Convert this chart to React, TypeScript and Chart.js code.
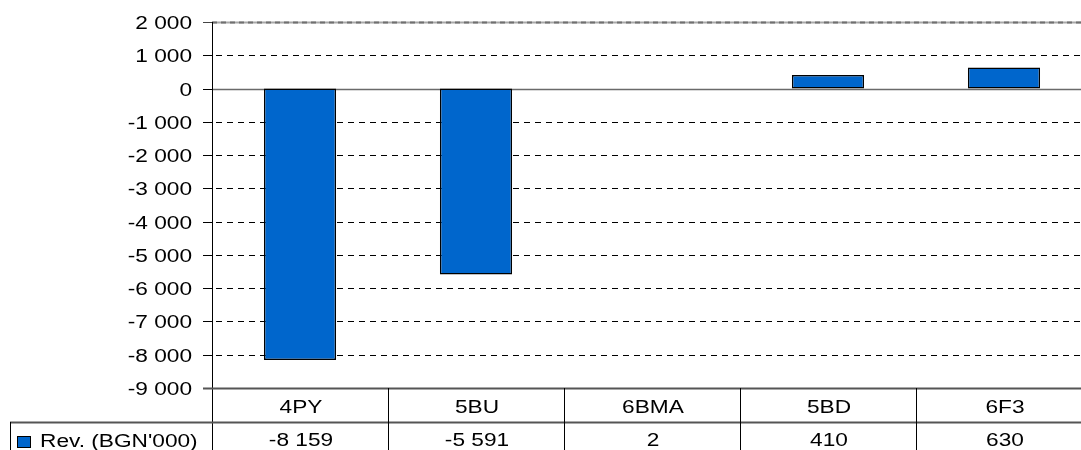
import React, { useEffect, useRef } from 'react';
import { Chart, registerables } from 'chart.js';

Chart.register(...registerables);

const categories = ['4PY', '5BU', '6BMA', '5BD', '6F3'];
const revenue = [-8159, -5591, 2, 410, 630];
const seriesLabel = "Rev. (BGN'000)";
const yMin = -9000;
const yMax = 2000;
const yStep = 1000;

const BAR_COLOR = '#0066CC';
const FONT = '18px "Liberation Sans", Arial, sans-serif';
const SX = 1.26;

function fmt(v: number): string {
  const s = Math.abs(v).toString().replace(/\B(?=(\d{3})+(?!\d))/g, ' ');
  return (v < 0 ? '-' : '') + s;
}

function drawText(ctx: CanvasRenderingContext2D, str: string, x: number, y: number, align: CanvasTextAlign) {
  ctx.save();
  ctx.translate(x, y);
  ctx.scale(SX, 1);
  ctx.font = FONT;
  ctx.fillStyle = '#000';
  ctx.textAlign = align;
  ctx.textBaseline = 'alphabetic';
  ctx.fillText(str, 0, 0);
  ctx.restore();
}

function line(ctx: CanvasRenderingContext2D, x1: number, y1: number, x2: number, y2: number, color: string, width: number, dash: number[] = []) {
  ctx.save();
  ctx.strokeStyle = color;
  ctx.lineWidth = width;
  ctx.setLineDash(dash);
  ctx.beginPath();
  ctx.moveTo(x1, y1);
  ctx.lineTo(x2, y2);
  ctx.stroke();
  ctx.restore();
}

const customPlugin = {
  id: 'customAxesAndTable',
  beforeDatasetsDraw(chart: any) {
    const { ctx, chartArea: a, scales } = chart;
    const y = scales.y;
    y.ticks.forEach((t: any) => {
      const py = Math.round(y.getPixelForValue(t.value)) + 0.5;
      if (t.value === yMin) return;
      if (t.value === yMax) {
        line(ctx, a.left, py, a.right, py, '#a8a8a8', 2);
        line(ctx, a.left, py, a.right, py, '#707070', 2, [5, 4]);
      } else if (t.value === 0) {
        line(ctx, a.left, py, a.right, py, '#6a6a6a', 1.5);
      } else {
        line(ctx, a.left + 4, py, a.right, py, '#000', 1, [6, 5]);
      }
    });
  },
  afterDatasetsDraw(chart: any) {
    const { ctx, chartArea: a, scales } = chart;
    const x = scales.x;
    const y = scales.y;
    const H = chart.height;
    const axisX = Math.round(a.left) + 0.5;
    const rowTop = Math.round(a.bottom);
    const rowMid = rowTop + 34;

    // y axis line
    line(ctx, axisX, a.top, axisX, H, '#000', 1);

    // ticks and labels
    y.ticks.forEach((t: any) => {
      const py = Math.round(y.getPixelForValue(t.value)) + 0.5;
      line(ctx, a.left - 9, py, a.left, py, t.value === yMax ? '#444' : '#000', 1);
      drawText(ctx, fmt(t.value), a.left - 20, py + 6.5, 'right');
    });

    // table lines
    line(ctx, a.left - 9, rowTop + 0.5, a.right, rowTop + 0.5, '#555', 2);
    line(ctx, 10, rowMid + 0.5, a.right, rowMid + 0.5, '#555', 2);
    line(ctx, 10.5, rowMid, 10.5, H, '#000', 1);

    const n = categories.length;
    for (let i = 0; i < n; i++) {
      const cx = x.getPixelForValue(i);
      const half = (x.right - x.left) / n / 2;
      const bx = Math.round(cx + half) + 0.5;
      line(ctx, bx, rowTop, bx, H, '#000', 1);
      drawText(ctx, categories[i], cx + 1, rowTop + 25, 'center');
      drawText(ctx, fmt(revenue[i]), cx + 1, rowMid + 24, 'center');
    }

    // legend key
    ctx.save();
    ctx.fillStyle = BAR_COLOR;
    ctx.fillRect(17.5, rowMid + 14.5, 13, 11);
    ctx.strokeStyle = '#000';
    ctx.lineWidth = 1;
    ctx.strokeRect(17.5, rowMid + 14.5, 13, 11);
    ctx.restore();
    drawText(ctx, seriesLabel, 40, rowMid + 25, 'left');
  },
};

export default function App() {
  const ref = useRef<HTMLCanvasElement>(null);

  useEffect(() => {
    if (!ref.current) return;
    const chart = new Chart(ref.current, {
      type: 'bar',
      data: {
        labels: categories,
        datasets: [
          {
            label: seriesLabel,
            data: revenue,
            backgroundColor: BAR_COLOR,
            borderColor: '#000',
            borderWidth: 1.5,
            borderSkipped: false,
            barPercentage: 0.41,
            categoryPercentage: 1,
          },
        ],
      },
      options: {
        responsive: false,
        animation: false,
        devicePixelRatio: 1,
        layout: { padding: { top: 22, bottom: 62, left: 0, right: 0 } },
        plugins: {
          legend: { display: false },
          tooltip: { enabled: false },
        },
        scales: {
          x: { display: false, offset: true },
          y: {
            display: true,
            min: yMin,
            max: yMax,
            ticks: { display: false, stepSize: yStep },
            grid: { display: false },
            border: { display: false },
            afterFit: (s: any) => {
              s.width = 212;
            },
          },
        },
      },
      plugins: [customPlugin],
    });
    return () => chart.destroy();
  }, []);

  return (
    <div style={{ position: 'absolute', left: 0, top: 0, width: 1081, height: 450, overflow: 'hidden', background: '#fff' }}>
      <canvas ref={ref} width={1092} height={450} style={{ display: 'block' }} />
    </div>
  );
}
